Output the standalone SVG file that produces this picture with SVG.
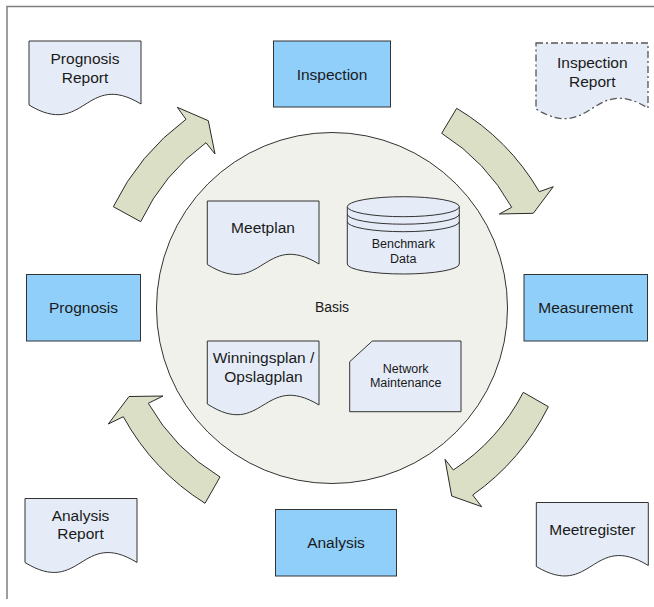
<svg xmlns="http://www.w3.org/2000/svg" width="654" height="607" viewBox="0 0 654 607">
<style>
  text { font-family: "Liberation Sans", Arial, sans-serif; fill: #1a1a1a; text-anchor: middle; }
  .big { font-size: 15.5px; }
  .mid { font-size: 14px; }
  .small { font-size: 12.5px; }
  .proc { fill: #90cffa; stroke: #333; stroke-width: 1; }
  .doc { fill: #e5ecf7; stroke: #333; stroke-width: 1; }
  .dash { fill: #e5ecf7; stroke: #555; stroke-width: 1.3; stroke-dasharray: 7 3 2 3; }
  .arrow { fill: #dadfc6; stroke: #2a2a2a; stroke-width: 1; stroke-linejoin: miter; }
  .frame { fill: none; stroke: #7f7f7f; stroke-width: 1.5; }
</style>
<rect width="654" height="607" fill="#ffffff"/>
<path class="frame" d="M7,599 V6.5 H654"/>

<g id="basis">
  <circle cx="332" cy="308" r="175.5" fill="#f0f1ea" stroke="#333" stroke-width="1"/>
  <text class="mid" x="332" y="311.7">Basis</text>
</g>

<g id="connectors">
  <path class="arrow" d="M113.3,206.7 A240,240 0 0 1 186,119.3 L177.3,107.3 L208.3,120.7 L215,154 L206,142.7 A208,208 0 0 0 140.7,221.7 Z"/>
  <path class="arrow" d="M456.7,108.3 A237,237 0 0 1 539.3,191.7 L553.3,186.7 L533.3,213.3 L499.3,214 L511.7,207.3 A206,206 0 0 0 441.7,133.3 Z"/>
  <path class="arrow" d="M548.3,406.7 A237,237 0 0 1 472.7,495 L481.7,506.7 L451.7,496 L445,459.3 L453.3,470 A206,206 0 0 0 523.3,392.3 Z"/>
  <path class="arrow" d="M205,503.3 A237,237 0 0 1 123.3,416.7 L108.3,424 L129,396.5 L163,396 L148.3,403.3 A206,206 0 0 0 220,477 Z"/>
</g>

<g id="prognosis-report">
  <path class="doc" d="M29,41 H141 V104 C85,70 85,139 29,105 Z"/>
  <text class="big" x="85" y="63.5">Prognosis</text>
  <text class="big" x="85" y="82.5">Report</text>
</g>

<g id="inspection">
  <rect class="proc" x="273.5" y="41" width="117" height="66"/>
  <text class="big" x="332" y="79.5">Inspection</text>
</g>

<g id="inspection-report">
  <path class="dash" d="M536,43 H648 V108 C592,74 592,143 536,109 Z"/>
  <text class="big" x="592.3" y="68">Inspection</text>
  <text class="big" x="592.3" y="87">Report</text>
</g>

<g id="prognosis">
  <rect class="proc" x="26.5" y="274.5" width="114" height="66.5"/>
  <text class="big" x="83.5" y="313.3">Prognosis</text>
</g>

<g id="measurement">
  <rect class="proc" x="524" y="274.5" width="123.5" height="66.5"/>
  <text class="big" x="585.7" y="313.3">Measurement</text>
</g>

<g id="analysis">
  <rect class="proc" x="275.5" y="509.5" width="121" height="66.5"/>
  <text class="big" x="336" y="548.3">Analysis</text>
</g>

<g id="analysis-report">
  <path class="doc" d="M25,498.5 H137 V562.5 C81,528 81,597 25,562.5 Z"/>
  <text class="big" x="80.5" y="520.7">Analysis</text>
  <text class="big" x="80.5" y="539.3">Report</text>
</g>

<g id="meetregister">
  <path class="doc" d="M536.3,502.5 H648.3 V565.5 C592,531 592,600 536.3,566.5 Z"/>
  <text class="big" x="592.3" y="535">Meetregister</text>
</g>

<g id="meetplan">
  <path class="doc" d="M207.3,201 H319 V264 C263,230 263,299 207.3,264.5 Z"/>
  <text class="big" x="263" y="233.3">Meetplan</text>
</g>

<g id="benchmark-data">
  <path class="doc" d="M347.3,206.7 V264 A56,10 0 0 0 459.3,264 V206.7"/>
  <ellipse class="doc" cx="403.3" cy="206.7" rx="56" ry="10"/>
  <path d="M347.3,214.2 A56,10 0 0 0 459.3,214.2 M347.3,221.7 A56,10 0 0 0 459.3,221.7" fill="none" stroke="#333" stroke-width="1"/>
  <text class="small" x="403.3" y="248.3">Benchmark</text>
  <text class="small" x="403.3" y="262.7">Data</text>
</g>

<g id="winningsplan">
  <path class="doc" d="M207.3,341 H319 V405 C263,371 263,440 207.3,404 Z"/>
  <text class="big" x="263.5" y="363.3">Winningsplan /</text>
  <text class="big" x="263.5" y="381.7">Opslagplan</text>
</g>

<g id="network-maintenance">
  <path class="doc" d="M372.3,341 H461 V411.7 H349.7 V361.7 Z"/>
  <text class="small" x="405.7" y="373.3">Network</text>
  <text class="small" x="405.7" y="387.3">Maintenance</text>
</g>
</svg>
